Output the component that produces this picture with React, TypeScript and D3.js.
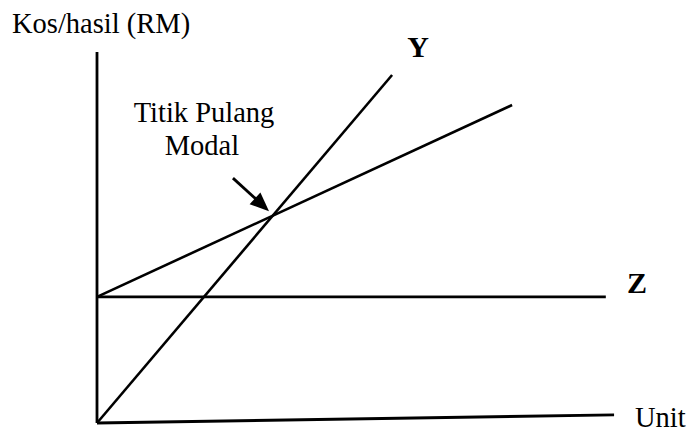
import React from "react";
import { scaleLinear, line } from "d3";

// data units: units sold (0..100) vs. RM (0..100)
const yAxisLine: [number, number][] = [[0, 0], [0, 100]];
const xAxisLine: [number, number][] = [[0, 0], [100.4, 2.2]];
const revenueY: [number, number][] = [[0, 0], [57.3, 93.8]];
const totalCost: [number, number][] = [[0, 34], [80.6, 85.7]];
const fixedCostZ: [number, number][] = [[0, 34], [98.8, 34]];
const arrowPts: [number, number][] = [[26.4, 66.0], [33.4, 57.1]];

const labels = [
  { text: "Kos/hasil (RM)", x: 12, y: 33, anchor: "start", bold: false },
  { text: "Titik Pulang", x: 204, y: 122, anchor: "middle", bold: false },
  { text: "Modal", x: 202, y: 155, anchor: "middle", bold: false },
  { text: "Y", x: 418, y: 57, anchor: "middle", bold: true },
  { text: "Z", x: 627, y: 293, anchor: "start", bold: true },
  { text: "Unit", x: 635, y: 427, anchor: "start", bold: false }
];

const width = 691;
const height = 435;

const x = scaleLinear().domain([0, 100]).range([97, 612]);
const y = scaleLinear().domain([0, 100]).range([423, 52]);

const path = line<[number, number]>()
  .x(d => x(d[0]))
  .y(d => y(d[1]));

export default function App() {
  const [a0, a1] = arrowPts;
  const sx = x(a0[0]);
  const sy = y(a0[1]);
  const tx = x(a1[0]);
  const ty = y(a1[1]);
  const ang = (Math.atan2(ty - sy, tx - sx) * 180) / Math.PI;

  return (
    <svg
      width={width}
      height={height}
      style={{ position: "absolute", left: 0, top: 0, background: "#fff" }}
    >
      <g fill="none" stroke="#000" strokeWidth={2.6}>
        <path d={path(yAxisLine) || ""} strokeWidth={2.8} />
        <path d={path(xAxisLine) || ""} strokeWidth={2.8} />
        <path d={path(revenueY) || ""} />
        <path d={path(totalCost) || ""} />
        <path d={path(fixedCostZ) || ""} />
        <path d={path([a0, [a1[0] - 2, a1[1] + 2.6]]) || ""} strokeWidth={2.8} />
      </g>
      <polygon
        points="0,0 -19,-8 -19,8"
        fill="#000"
        transform={`translate(${tx},${ty}) rotate(${ang})`}
      />
      {labels.map(l => (
        <text
          key={l.text}
          x={l.x}
          y={l.y}
          textAnchor={l.anchor}
          fontFamily="'Liberation Serif', 'Times New Roman', serif"
          fontSize={l.bold ? 30 : 28.5}
          fontWeight={l.bold ? "bold" : "normal"}
          fill="#000"
        >
          {l.text}
        </text>
      ))}
    </svg>
  );
}
